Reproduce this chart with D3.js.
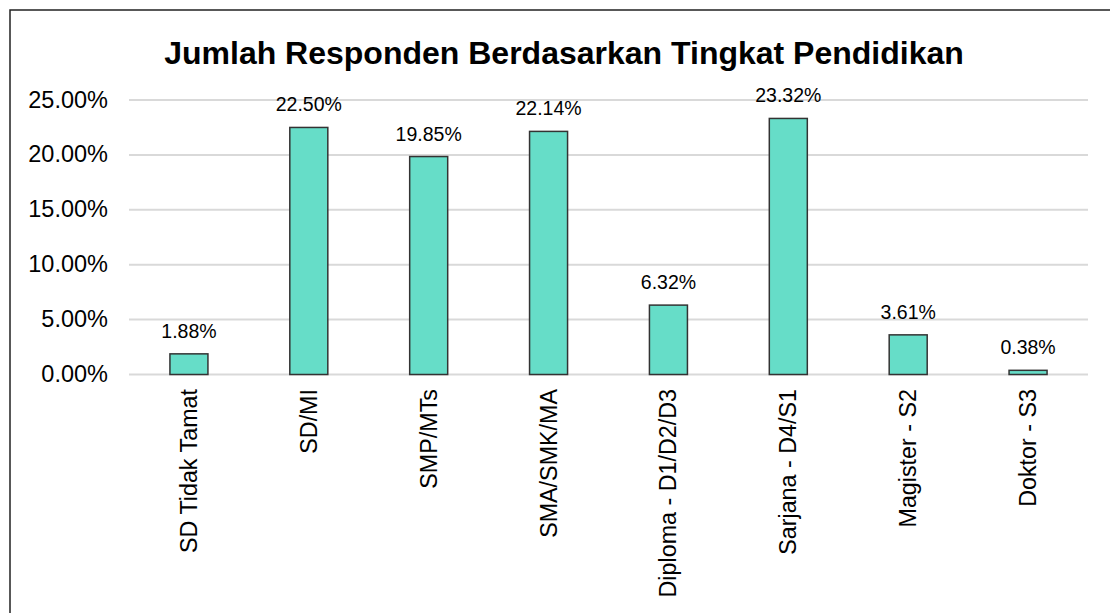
<!DOCTYPE html>
<html>
<head>
  <meta charset="utf-8">
  <script src="https://cdn.jsdelivr.net/npm/d3@7"></script>
  <style>
    body { margin: 0; background: #fff; }
    text { font-family: "Liberation Sans", Arial, sans-serif; fill: #000; }
    line.grid { stroke: #d9d9d9; stroke-width: 2; }
    rect.bar { fill: #66ddc8; stroke: #333; stroke-width: 1.5; }
  </style>
</head>
<body>
  <svg id="chart"></svg>
  <script>
    var categories = ['SD Tidak Tamat', 'SD/MI', 'SMP/MTs', 'SMA/SMK/MA',
      'Diploma - D1/D2/D3', 'Sarjana - D4/S1', 'Magister - S2', 'Doktor - S3'];
    var values = [1.88, 22.50, 19.85, 22.14, 6.32, 23.32, 3.61, 0.38];
    var yTicks = [0, 5, 10, 15, 20, 25];

    var width = 1110, height = 613;
    var plotLeft = 129, plotRight = 1088, plotTop = 100, plotBottom = 374.5;

    var svg = d3.select('#chart')
      .attr('width', width)
      .attr('height', height);

    // outer border (runs off the right and bottom edges)
    svg.append('rect')
      .attr('x', 10).attr('y', 10)
      .attr('width', 1110).attr('height', 620)
      .attr('fill', 'none').attr('stroke', '#222').attr('stroke-width', 1.5);

    var x = d3.scaleBand().domain(categories).range([plotLeft, plotRight])
      .paddingInner(0.683).paddingOuter(0.3415);
    var y = d3.scaleLinear().domain([0, 25]).range([plotBottom, plotTop]);

    svg.selectAll('line.grid')
      .data(yTicks)
      .enter()
      .append('line')
      .attr('class', 'grid')
      .attr('x1', plotLeft).attr('x2', plotRight)
      .attr('y1', d => y(d)).attr('y2', d => y(d));

    svg.selectAll('text.ytick')
      .data(yTicks)
      .enter()
      .append('text')
      .attr('class', 'ytick')
      .attr('x', 108)
      .attr('y', d => y(d) + 7.5)
      .attr('text-anchor', 'end')
      .style('font-size', '23.5px')
      .text(d => d.toFixed(2) + '%');

    svg.selectAll('rect.bar')
      .data(values)
      .enter()
      .append('rect')
      .attr('class', 'bar')
      .attr('x', (d, i) => x(categories[i]))
      .attr('y', d => y(d))
      .attr('width', x.bandwidth())
      .attr('height', d => plotBottom - y(d));

    svg.selectAll('text.val')
      .data(values)
      .enter()
      .append('text')
      .attr('class', 'val')
      .attr('x', (d, i) => x(categories[i]) + x.bandwidth() / 2)
      .attr('y', d => y(d) - 16)
      .attr('text-anchor', 'middle')
      .style('font-size', '19.5px')
      .text(d => d.toFixed(2) + '%');

    svg.selectAll('text.cat')
      .data(categories)
      .enter()
      .append('text')
      .attr('class', 'cat')
      .attr('transform', d => 'translate(' + (x(d) + x.bandwidth() / 2 + 8) + ',389) rotate(-90)')
      .attr('text-anchor', 'end')
      .style('font-size', '23.3px')
      .text(d => d);

    svg.append('text')
      .attr('x', 564)
      .attr('y', 64)
      .attr('text-anchor', 'middle')
      .style('font-size', '32px')
      .style('font-weight', 'bold')
      .text('Jumlah Responden Berdasarkan Tingkat Pendidikan');
  </script>
</body>
</html>
